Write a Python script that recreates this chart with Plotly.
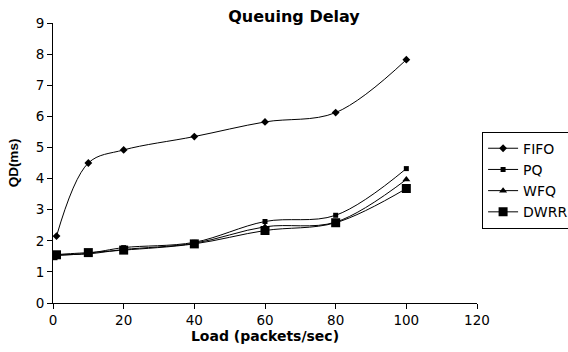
import plotly.graph_objects as go

# Offered load (packets/sec) and measured queuing delay (ms) per scheduler
load_fifo = [1, 10, 20, 40, 60, 80, 100]
qd_fifo = [2.15, 4.5, 4.92, 5.35, 5.82, 6.12, 7.82]

load_pq = [0, 10, 20, 40, 60, 80, 100]
qd_pq = [1.52, 1.6, 1.78, 1.95, 2.62, 2.82, 4.32]

load_wfq = [0, 10, 20, 40, 60, 80, 100]
qd_wfq = [1.55, 1.58, 1.72, 1.92, 2.45, 2.6, 3.97]

load_dwrr = [0, 1, 10, 20, 40, 60, 80, 100]
qd_dwrr = [1.52, 1.55, 1.62, 1.7, 1.9, 2.33, 2.58, 3.68]

x_ticks = [0, 20, 40, 60, 80, 100, 120]
y_ticks = [0, 1, 2, 3, 4, 5, 6, 7, 8, 9]

series = [
    ("FIFO", load_fifo, qd_fifo, "diamond", 6),
    ("PQ", load_pq, qd_pq, "square", 5),
    ("WFQ", load_wfq, qd_wfq, "triangle-up", 7),
    ("DWRR", load_dwrr, qd_dwrr, "square", 9),
]

WIDE = "DejaVu Sans, Arial, sans-serif"
NARROW = "Liberation Sans, Arial, sans-serif"

fig = go.Figure()
for name, xs, ys, sym, size in series:
    fig.add_trace(go.Scatter(
        x=xs, y=ys, name=name, mode="lines+markers",
        line=dict(color="black", width=1, shape="spline", smoothing=1),
        marker=dict(symbol=sym, size=size, color="black"),
    ))

fig.update_layout(
    width=568, height=352,
    margin=dict(l=53, r=91, t=23, b=49, autoexpand=False),
    paper_bgcolor="white", plot_bgcolor="white",
    font=dict(family=WIDE, size=13.5, color="black"),
    title=dict(text="<b>Queuing Delay</b>", x=294 / 568, xref="container",
               y=1 - 16 / 352, yref="container", xanchor="center", yanchor="middle",
               font=dict(family=WIDE, size=16, color="black")),
    showlegend=True,
    legend=dict(x=1.012, y=0.612, xanchor="left", yanchor="top",
                bordercolor="black", borderwidth=1, bgcolor="white",
                font=dict(family=WIDE, size=14, color="black"),
                tracegroupgap=0, itemwidth=30),
    xaxis=dict(range=[0, 120], tickvals=x_ticks, ticks="outside", ticklen=5,
               tickcolor="black", showline=True, linecolor="black", linewidth=1,
               showgrid=False, zeroline=False,
               tickfont=dict(family=WIDE, size=13.5),
               title=dict(text="<b>Load (packets/sec)</b>", standoff=0,
                          font=dict(family=WIDE, size=14))),
    yaxis=dict(range=[0, 9], tickvals=y_ticks, ticks="outside", ticklen=5,
               tickcolor="black", showline=True, linecolor="black", linewidth=1,
               showgrid=False, zeroline=False,
               tickfont=dict(family=WIDE, size=13.5),
               title=dict(text="<b>QD(ms)</b>", standoff=13,
                          font=dict(family=NARROW, size=13.5))),
)

fig.write_html("out.html")
